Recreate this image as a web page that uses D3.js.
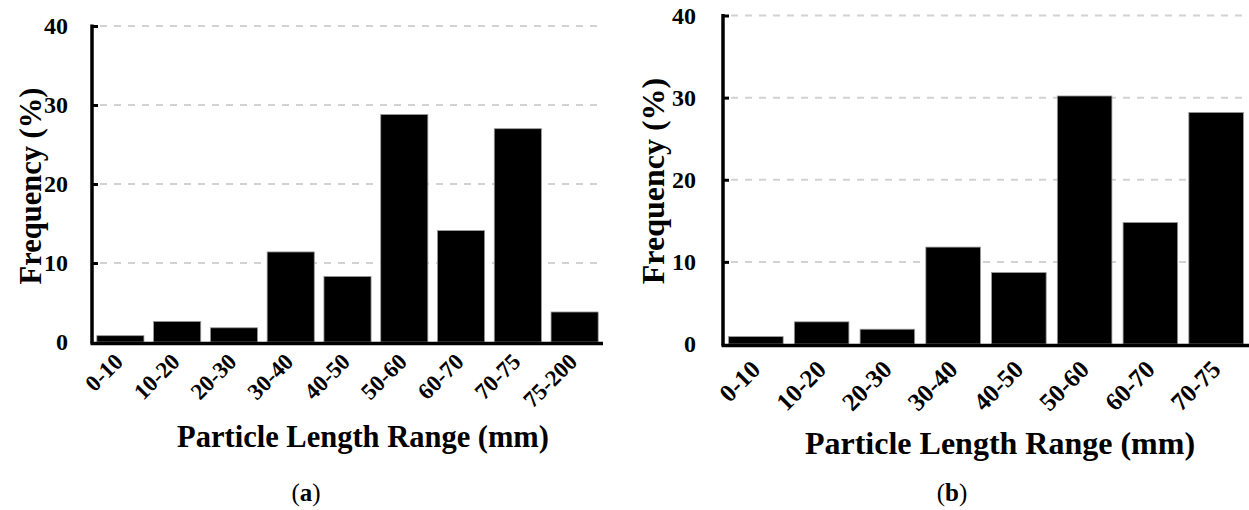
<!DOCTYPE html>
<html>
<head>
<meta charset="utf-8">
<script src="https://cdn.jsdelivr.net/npm/d3@7"></script>
<style>
  html, body { margin: 0; padding: 0; background: #fff; }
  svg { display: block; }
  text { font-family: "Liberation Serif", "Times New Roman", serif; }
</style>
</head>
<body>
<svg id="fig" width="1249" height="510"></svg>
<script>
// Particle length distribution, panel (a): nine length classes
const categoriesA = ["0-10", "10-20", "20-30", "30-40", "40-50", "50-60", "60-70", "70-75", "75-200"];
const frequencyA  = [0.8, 2.6, 1.8, 11.4, 8.3, 28.8, 14.1, 27.0, 3.8];

// Panel (b): eight length classes
const categoriesB = ["0-10", "10-20", "20-30", "30-40", "40-50", "50-60", "60-70", "70-75"];
const frequencyB  = [0.9, 2.7, 1.8, 11.8, 8.7, 30.2, 14.8, 28.2];

const yTicks = [0, 10, 20, 30, 40];
const yDomain = [0, 40];

const svg = d3.select("#fig");

function drawPanel(cfg) {
  const g = svg.append("g");
  const x = d3.scaleBand()
    .domain(cfg.categories)
    .range([cfg.x0, cfg.x1])
    .paddingInner(0.17)
    .paddingOuter(0.085);
  const y = d3.scaleLinear().domain(yDomain).range([cfg.y0, cfg.y1]);

  // dashed horizontal grid
  g.append("g")
    .selectAll("line")
    .data(yTicks.filter(t => t > 0))
    .join("line")
    .attr("x1", cfg.x0 + 8)
    .attr("x2", cfg.x1)
    .attr("y1", d => y(d))
    .attr("y2", d => y(d))
    .attr("stroke", "#d2d2d2")
    .attr("stroke-width", 2)
    .attr("stroke-dasharray", "7,7");

  // bars
  g.append("g")
    .selectAll("rect")
    .data(cfg.values)
    .join("rect")
    .attr("x", (d, i) => x(cfg.categories[i]))
    .attr("width", x.bandwidth())
    .attr("y", d => y(d))
    .attr("height", d => y(0) - y(d))
    .attr("fill", "#000")
    .attr("stroke", "#9a9a9a")
    .attr("stroke-width", 0.8);

  // y axis with inward ticks
  const yAxis = d3.axisRight(y)
    .tickValues(yTicks.filter(t => t > 0))
    .tickSize(6)
    .tickFormat("");
  const ya = g.append("g")
    .attr("transform", `translate(${cfg.x0},0)`)
    .call(yAxis);
  ya.select(".domain").remove();
  ya.selectAll(".tick line").attr("stroke", "#000").attr("stroke-width", 3);
  g.append("line")
    .attr("x1", cfg.x0).attr("x2", cfg.x0)
    .attr("y1", y(40) - 1.5).attr("y2", y(0) + 1.5)
    .attr("stroke", "#000").attr("stroke-width", 3.5);

  // y tick labels
  g.append("g")
    .selectAll("text")
    .data(yTicks)
    .join("text")
    .attr("x", cfg.x0 - cfg.labelGap)
    .attr("y", d => y(d) + 8)
    .attr("text-anchor", "end")
    .attr("font-weight", "bold")
    .attr("font-size", 24)
    .text(d => d);

  // x axis line
  g.append("line")
    .attr("x1", cfg.x0 - 1.5).attr("x2", cfg.x1)
    .attr("y1", y(0) + 1.5).attr("y2", y(0) + 1.5)
    .attr("stroke", "#000").attr("stroke-width", 3.5);

  // x tick labels, rotated
  const xAxis = d3.axisBottom(x).tickSize(0).tickPadding(0);
  const xa = g.append("g")
    .attr("transform", `translate(0,${y(0)})`)
    .call(xAxis);
  xa.select(".domain").remove();
  xa.selectAll(".tick text")
    .attr("font-family", "Liberation Serif, serif")
    .attr("font-weight", "bold")
    .attr("font-size", cfg.tickFont)
    .attr("fill", "#000")
    .attr("text-anchor", "end")
    .attr("dy", null)
    .attr("y", null)
    .attr("transform", `translate(${cfg.tickDx},${cfg.tickDy}) rotate(-45)`);

  // axis titles
  g.append("text")
    .attr("transform", `translate(${cfg.yTitleX},${cfg.yTitleY}) rotate(-90)`)
    .attr("text-anchor", "middle")
    .attr("font-weight", "bold")
    .attr("font-size", cfg.titleFont)
    .text("Frequency (%)");

  g.append("text")
    .attr("x", cfg.xTitleX)
    .attr("y", cfg.xTitleY)
    .attr("text-anchor", "middle")
    .attr("font-weight", "bold")
    .attr("font-size", cfg.titleFont)
    .text("Particle Length Range (mm)");

  // panel caption
  const cap = g.append("text")
    .attr("x", cfg.capX)
    .attr("y", 501)
    .attr("text-anchor", "middle")
    .attr("font-size", 25);
  cap.append("tspan").text("(");
  cap.append("tspan").attr("font-weight", "bold").text(cfg.caption);
  cap.append("tspan").text(")");
}

drawPanel({
  categories: categoriesA, values: frequencyA,
  x0: 92, x1: 603, y0: 342, y1: 26,
  labelGap: 24, tickFont: 23, tickDx: 4, tickDy: 21,
  titleFont: 30.5, yTitleX: 41, yTitleY: 186,
  xTitleX: 363, xTitleY: 447,
  capX: 306, caption: "a"
});

drawPanel({
  categories: categoriesB, values: frequencyB,
  x0: 723, x1: 1249, y0: 344, y1: 15.5,
  labelGap: 27, tickFont: 25, tickDx: 6, tickDy: 27,
  titleFont: 32, yTitleX: 664, yTitleY: 181,
  xTitleX: 1000, xTitleY: 454,
  capX: 952, caption: "b"
});
</script>
</body>
</html>
